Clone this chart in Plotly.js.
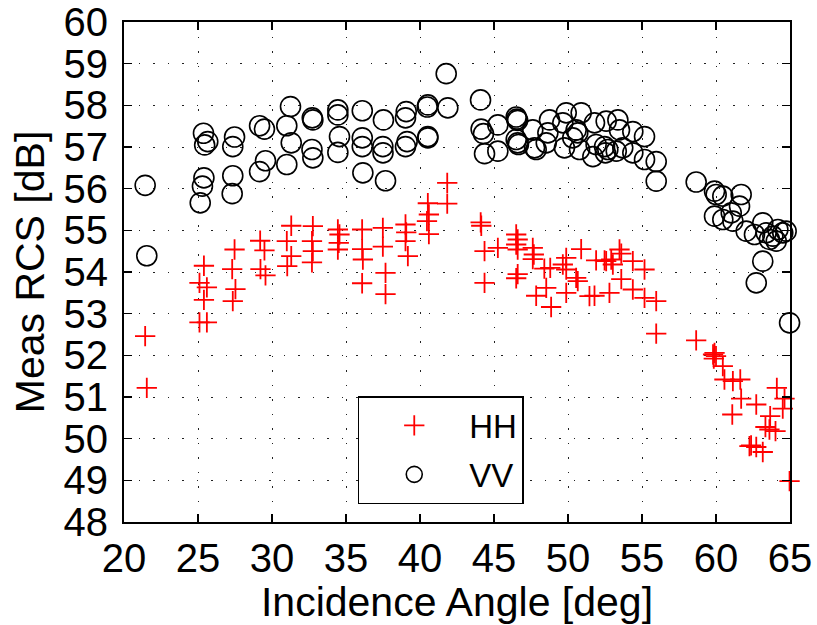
<!DOCTYPE html>
<html>
<head>
<meta charset="utf-8">
<script src="https://cdn.plot.ly/plotly-3.0.1.min.js"></script>
<style>
  html, body { margin: 0; padding: 0; background: #fff; }
  #chart { width: 817px; height: 625px; }
</style>
</head>
<body>
<div id="chart"></div>
<script>
// HH (red +) incidence angle [deg] and measured RCS [dB]
var hhAngle = [
  21.43, 21.54,
  25.1, 25.6, 25.4, 25.1, 25.6, 25.4,
  27.47, 27.31, 27.53, 27.35,
  29.2, 29.49, 29.22, 29.56,
  31.3, 31.0, 31.3, 31.03,
  32.76, 32.7, 32.76, 32.7,
  34.45, 34.56, 34.51, 34.45,
  36.09, 36.09, 36.14, 36.09,
  37.49, 37.49, 37.67, 37.67,
  39.02, 39.07, 39.02, 39.18,
  40.53, 40.6, 40.47, 40.6,
  41.84, 41.84,
  44.1, 44.14, 44.36, 44.36,
  45.26,
  46.5, 46.6, 46.5, 46.6, 46.6, 46.5,
  47.62, 47.69, 47.62, 47.85,
  48.53, 48.86, 48.4, 48.8,
  49.65, 49.88, 49.88, 49.88,
  50.89, 50.55, 50.66,
  51.45, 51.79, 51.9,
  52.47, 52.58, 52.92, 52.8,
  53.48, 53.6, 53.03, 53.6,
  54.38, 54.38,
  55.17, 55.17,
  55.96, 55.96,
  58.66,
  59.9, 59.8, 60.0, 59.85,
  60.46, 60.57,
  61.14, 61.64, 61.7, 61.1,
  62.72,
  64.11, 64.63, 64.51,
  63.66, 63.34, 63.61, 64.02,
  62.37, 62.26, 62.72, 63.16,
  64.97
];
var hhRCS = [
  52.46, 51.22,
  53.74, 53.63, 53.33, 52.79, 52.79, 54.15,
  54.54, 54.07, 53.59, 53.30,
  54.75, 54.52, 54.07, 53.92,
  55.11, 54.74, 54.38, 54.14,
  55.10, 54.74, 54.50, 54.23,
  55.02, 54.90, 54.70, 54.54,
  55.02, 54.55, 54.30, 53.73,
  55.06, 54.61, 53.98, 53.47,
  55.14, 54.95, 54.74, 54.38,
  55.65, 55.38, 55.22, 54.91,
  56.14, 55.64,
  55.19, 55.11, 54.50, 53.74,
  54.58,
  54.90, 54.78, 54.66, 54.54, 53.95, 53.85,
  54.58, 54.42, 54.31, 53.43,
  53.62, 53.16, 54.08, 54.10,
  54.18, 54.06, 54.34, 53.50,
  54.55, 53.86, 53.78,
  53.42, 53.43, 54.28,
  54.28, 54.26, 54.30, 53.50,
  54.54, 54.44, 54.18, 53.83,
  54.26, 53.58,
  54.06, 53.38,
  53.30, 52.52,
  52.36,
  52.06, 52.02, 51.98, 51.92,
  51.74, 51.42,
  51.38, 51.42, 50.96, 50.58,
  50.82,
  51.22, 50.96, 50.72,
  50.54, 50.28, 50.22, 50.18,
  49.84, 49.82, 49.80, 49.68,
  48.98
];

// VV (black o)
var vvAngle = [
  21.43, 21.54,
  25.37, 25.45, 25.66, 25.4, 25.3, 25.15,
  27.47, 27.35, 27.35, 27.31,
  29.16, 29.49, 29.16, 29.56,
  31.25, 31.0, 31.3, 31.0,
  32.72, 32.76, 32.7, 32.76,
  34.45, 34.45, 34.56, 34.45,
  36.1, 36.1, 36.1, 36.14,
  37.53, 37.49, 37.5, 37.67,
  39.07, 39.02, 39.13, 39.02,
  40.53, 40.49, 40.53, 40.53,
  41.77, 41.88,
  44.09, 44.13, 44.29, 44.36,
  45.26, 45.26,
  46.5, 46.55, 46.6, 46.5, 46.6, 46.65,
  47.62, 47.74, 47.85,
  48.75, 48.64, 48.53,
  49.88, 49.65, 49.76,
  50.89, 50.55, 50.66, 50.32, 50.78,
  51.79, 51.9, 51.68,
  52.58, 52.47, 52.69, 52.53,
  53.37, 53.48, 53.26, 53.7,
  54.38, 54.38,
  55.17, 55.17,
  55.96, 55.96,
  58.66,
  59.9, 60.01, 60.46, 61.7, 61.59,
  59.9, 60.46, 61.14, 61.03,
  62.04, 62.6, 63.16, 63.39, 63.61,
  64.18, 64.07, 64.51, 64.74, 63.84,
  63.16, 62.72,
  64.97
];
var vvRCS = [
  56.08, 54.39,
  57.33, 57.05, 57.13, 56.26, 56.06, 55.66,
  57.24, 57.01, 56.31, 55.88,
  57.51, 57.43, 56.41, 56.67,
  57.97, 57.51, 57.10, 56.58,
  57.70, 57.65, 56.94, 56.74,
  57.89, 57.77, 57.25, 56.87,
  57.87, 57.22, 57.01, 56.38,
  57.65, 57.01, 56.86, 56.19,
  57.85, 57.70, 57.13, 57.01,
  58.01, 57.96, 57.25, 57.22,
  58.76, 57.94,
  58.13, 57.43, 57.32, 56.84,
  57.53, 56.90,
  57.72, 57.67, 57.64, 57.18, 57.10, 57.06,
  57.41, 56.98, 56.94,
  57.65, 57.34, 57.10,
  57.82, 57.58, 56.98,
  57.82, 57.41, 57.34, 57.22, 56.94,
  57.58, 57.06, 56.77,
  57.62, 57.01, 56.94, 56.86,
  57.65, 57.41, 56.90, 56.98,
  57.37, 56.86,
  57.25, 56.70,
  56.65, 56.18,
  56.16,
  55.94, 55.86, 55.82, 55.86, 55.58,
  55.34, 55.26, 55.22, 55.42,
  54.98, 54.90, 55.18, 54.94, 54.78,
  55.02, 54.74, 54.94, 54.98, 54.86,
  54.26, 53.74,
  52.78
];

var xTicks = [20, 25, 30, 35, 40, 45, 50, 55, 60, 65];
var yTicks = [48, 49, 50, 51, 52, 53, 54, 55, 56, 57, 58, 59, 60];

var FONT = '"Liberation Sans", Arial, Helvetica, sans-serif';

var traces = [
  {
    type: 'scatter', mode: 'markers', name: 'HH', legendgroup: 'hh',
    x: hhAngle, y: hhRCS, cliponaxis: false,
    marker: { symbol: 'cross-thin-open', size: 14.5, color: '#ff0000',
              line: { color: '#ff0000', width: 1.8 } }
  },
  {
    type: 'scatter', mode: 'markers', name: 'VV', legendgroup: 'vv',
    x: vvAngle, y: vvRCS, cliponaxis: false,
    marker: { symbol: 'circle-open', size: 20, color: '#000000',
              line: { color: '#000000', width: 1.6 } }
  }
];

var axisCommon = {
  showline: true, linecolor: '#000', linewidth: 2, mirror: 'ticks',
  ticks: 'inside', ticklen: 8, tickwidth: 1.5, tickcolor: '#000',
  showgrid: true, gridcolor: '#222', gridwidth: 1, griddash: '1.5px,13px',
  zeroline: false,
  tickfont: { family: FONT, size: 40, color: '#000' }
};

var layout = {
  width: 817, height: 625,
  margin: { l: 124, r: 27, t: 22, b: 103 },
  paper_bgcolor: '#fff', plot_bgcolor: '#fff',
  showlegend: true,
  xaxis: Object.assign({}, axisCommon, {
    range: [20, 65], tickvals: xTicks, ticktext: xTicks.map(String),
    title: { text: 'Incidence Angle [deg]', font: { family: FONT, size: 41, color: '#000' }, standoff: 4 }
  }),
  yaxis: Object.assign({}, axisCommon, {
    range: [48, 60], tickvals: yTicks, ticktext: yTicks.map(String),
    ticklabelstandoff: 6,
    title: { text: 'Meas RCS [dB]', font: { family: FONT, size: 41, color: '#000' }, standoff: 6 }
  }),
  legend: {
    x: 0.351, y: 0.252, xanchor: 'left', yanchor: 'top',
    bgcolor: '#fff', bordercolor: '#000', borderwidth: 1.5,
    font: { family: FONT, size: 33, color: '#000' },
    itemwidth: 100, tracegroupgap: 3
  }
};

Plotly.newPlot('chart', traces, layout, { staticPlot: true, displayModeBar: false });
</script>
</body>
</html>
